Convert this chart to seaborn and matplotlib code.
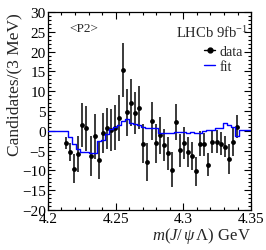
import numpy as np
import pandas as pd
import matplotlib
matplotlib.use("Agg")
import matplotlib.pyplot as plt
from matplotlib.lines import Line2D
from matplotlib.ticker import MultipleLocator
import seaborn as sns

# data points (bin centres in GeV), sWeighted candidates and errors
mass = [4.2135, 4.2165, 4.2195, 4.2225, 4.2255, 4.2285, 4.2315, 4.2345, 4.2375, 4.2405,
        4.2435, 4.2465, 4.2495, 4.2525, 4.2555, 4.2585, 4.2615, 4.2645, 4.2675, 4.2705,
        4.2735, 4.2765, 4.2795, 4.2825, 4.2855, 4.2885, 4.2915, 4.2945, 4.2975, 4.3005,
        4.3035, 4.3065, 4.3095, 4.3125, 4.3155, 4.3185, 4.3215, 4.3245, 4.3275, 4.3305,
        4.3335, 4.3365, 4.3395]
counts = [-3.1, -5.3, -9.5, -5.9, 1.5, 0.6, -6.4, -1.4, -7.3, -0.6,
          0.6, 0.2, 0.8, 3.2, 15.4, 4.7, 7.1, 4.4, 5.9, -3.2,
          -7.9, 2.4, -3.1, -1.1, -3.5, -5.7, -9.8, 2.2, -4.9, -3.1,
          -5.3, -6.4, -10.2, -3.2, -3.4, -8.5, -2.7, -2.7, -3.2, -4.0,
          -7.1, -2.9, 1.1]
errors = [1.6, 2.3, 3.7, 4.5, 5.6, 5.6, 5.1, 5.6, 4.8, 5.0,
          5.3, 5.4, 5.7, 5.8, 6.9, 5.9, 5.9, 5.3, 5.5, 5.0,
          4.8, 4.8, 4.9, 4.7, 4.0, 4.2, 4.4, 4.5, 4.2, 4.1,
          3.7, 3.6, 3.6, 3.2, 2.9, 2.9, 2.9, 2.9, 2.8, 2.7,
          3.8, 3.5, 2.9]

# fit, one value per 3 MeV bin from 4.20 to 4.35
fit_edges = np.linspace(4.2, 4.35, 51)
fit = [0, 0, 0, 0, 0, -1.5, -3.2, -4.5, -5.4, -5.4,
       -5.6, -5.5, -2.6, -2.3, -0.8, 0.4, 0.9, 1.5, 2.5, 3.0,
       2.0, 1.7, 1.5, 1.1, 0.6, 0.6, 0.8, -0.6, -0.6, -0.6,
       -0.6, -0.4, -0.4, -0.2, -0.6, -0.4, -0.6, -0.6, -0.1, 0.3,
       0.3, 0.6, 0.6, 2.0, 1.6, 1.1, -1.2, 0.2, 0.2, 0.2]

df_data = pd.DataFrame({"mass": mass, "counts": counts, "err": errors})
df_fit = pd.DataFrame({"mass": fit_edges, "fit": fit + [fit[-1]]})

sns.set_theme(style="ticks")
plt.rcParams["font.family"] = ["Liberation Serif", "DejaVu Serif"]
plt.rcParams["mathtext.fontset"] = "custom"
plt.rcParams["mathtext.rm"] = "Liberation Serif"
plt.rcParams["mathtext.it"] = "Liberation Serif:italic"

fig = plt.figure(figsize=(2.66, 2.51), dpi=100)
ax = fig.add_axes([0.180, 0.159, 0.764, 0.789])

ax.errorbar(df_data["mass"], df_data["counts"], yerr=df_data["err"], fmt="none",
            ecolor="#3a3a3a", elinewidth=1.4, capsize=0, zorder=2)
sns.scatterplot(data=df_data, x="mass", y="counts", color="black", s=12,
                edgecolor="black", linewidth=0, ax=ax, zorder=3)
sns.lineplot(data=df_fit, x="mass", y="fit", color="#0000ff", linewidth=1.0,
             drawstyle="steps-post", ax=ax, zorder=4)

ax.set_xlim(4.2, 4.35)
ax.set_ylim(-20, 30)
ax.xaxis.set_major_locator(MultipleLocator(0.05))
ax.xaxis.set_minor_locator(MultipleLocator(0.01))
ax.yaxis.set_major_locator(MultipleLocator(5))
ax.yaxis.set_minor_locator(MultipleLocator(1))
ax.set_xticks([4.2, 4.25, 4.3, 4.35])
ax.set_xticklabels(["4.2", "4.25", "4.3", "4.35"])
ax.tick_params(which="both", direction="in", top=True, right=True,
               labelsize=11, colors="black", width=0.8)
ax.tick_params(which="major", length=5, pad=1.5)
ax.tick_params(which="minor", length=2.5)
for s in ax.spines.values():
    s.set_color("black")
    s.set_linewidth(0.9)

ax.set_xlabel(r"$m(J/\,\psi\,\mathit{\Lambda})$ GeV", fontsize=12, loc="right", labelpad=0)
ax.set_ylabel("Candidates/(3 MeV)", fontsize=12.5, loc="top", labelpad=0)

ax.text(4.2266, 26, "<P2>", fontsize=9.5, ha="center", va="center")
ax.text(0.985, 0.90, r"LHCb 9fb$^{\mathregular{-1}}$", fontsize=10.5,
        ha="right", va="center", transform=ax.transAxes)

handles = [Line2D([], [], color="black", marker="o", markersize=3.5, linewidth=1),
           Line2D([], [], color="#0000ff", linewidth=1)]
ax.legend(handles, ["data", "fit"], loc="upper right", bbox_to_anchor=(1.0, 0.875),
          frameon=False, fontsize=10, handlelength=0.8, handletextpad=0.3,
          labelspacing=0.15, borderaxespad=0.2)

fig.savefig("out.png", dpi=100)
